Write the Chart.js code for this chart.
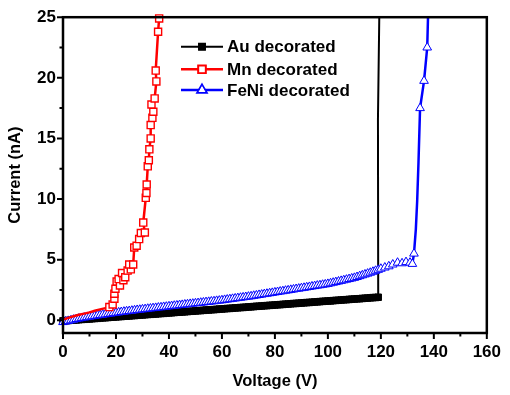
<!DOCTYPE html>
<html>
<head>
<meta charset="utf-8">
<script src="https://cdn.jsdelivr.net/npm/chart.js@4/dist/chart.umd.min.js"></script>
<style>
  body { margin: 0; background: #fff; }
  #wrap { width: 510px; height: 395px; position: relative; }
</style>
</head>
<body>
<div id="wrap"><canvas id="iv"></canvas></div>
<script>
// ---- data ----
const legendLabels = ['Au decorated', 'Mn decorated', 'FeNi decorated'];
const xTickLabels = [0, 20, 40, 60, 80, 100, 120, 140, 160];
const yTickLabels = [0, 5, 10, 15, 20, 25];

// Au decorated: voltage (V), current (nA)
const auV = [0,1,2,3,4,5,6,7,8,9,10,11,12,13,14,15,16,17,18,19,20,21,22,23,24,25,26,27,28,29,
  30,31,32,33,34,35,36,37,38,39,40,41,42,43,44,45,46,47,48,49,50,51,52,53,54,55,56,57,58,59,
  60,61,62,63,64,65,66,67,68,69,70,71,72,73,74,75,76,77,78,79,80,81,82,83,84,85,86,87,88,89,
  90,91,92,93,94,95,96,97,98,99,100,101,102,103,104,105,106,107,108,109,110,111,112,113,114,115,116,117,118,119,
  118.9,119.4];
const auI = [-0.05,-0.03,-0.02,0.0,0.02,0.03,0.05,0.07,0.08,0.1,0.11,0.13,0.15,0.16,0.18,0.2,0.21,0.23,0.25,0.26,
  0.28,0.3,0.31,0.33,0.34,0.36,0.38,0.39,0.41,0.43,0.44,0.46,0.48,0.49,0.51,0.52,0.54,0.56,0.57,0.59,
  0.61,0.62,0.64,0.66,0.67,0.69,0.7,0.72,0.74,0.75,0.77,0.79,0.8,0.82,0.84,0.85,0.87,0.88,0.9,0.92,
  0.93,0.95,0.97,0.98,1.0,1.02,1.03,1.05,1.06,1.08,1.1,1.11,1.13,1.15,1.16,1.18,1.2,1.21,1.23,1.24,
  1.26,1.28,1.29,1.31,1.33,1.34,1.36,1.38,1.39,1.41,1.42,1.44,1.46,1.47,1.49,1.51,1.52,1.54,1.56,1.57,
  1.59,1.6,1.62,1.64,1.65,1.67,1.69,1.7,1.72,1.74,1.75,1.77,1.78,1.8,1.82,1.83,1.85,1.87,1.88,1.9,
  16.6,25];

// Mn decorated
const mnV = [0,2,4,6,8,10,12,14,16,17,
  17.5,18.75,19.4,19.4,19.8,20.25,21.5,21,22.3,22.8,23.5,24.4,25.6,25,26.5,26.9,27.8,28.75,29.4,30.9,30.3,
  31.25,31.5,31.6,32,32.4,32.6,33.1,33.1,33.75,34.1,33.4,34.6,35.25,35,35.9,36.3];
const mnI = [0.05,0.2,0.33,0.45,0.55,0.65,0.78,0.9,1.0,1.05,
  1.09,1.31,1.78,2.19,2.6,3.2,2.87,3.4,3.9,3.3,3.55,4.1,4.2,4.6,4.6,6.0,6.15,6.7,7.2,7.24,8.06,
  10.1,10.5,11.2,12.7,13.2,14.1,15.0,16.1,16.7,17.2,17.8,18.3,19.7,20.6,23.8,24.9];

// FeNi decorated
const feniV = [0,1,2,3,4,5,6,7,8,9,10,11,12,13,14,15,16,17,18,19,20,21,22,23,24,25,26,27,28,29,
  30,31,32,33,34,35,36,37,38,39,40,41,42,43,44,45,46,47,48,49,50,51,52,53,54,55,56,57,58,59,
  60,61,62,63,64,65,66,67,68,69,70,71,72,73,74,75,76,77,78,79,80,81,82,83,84,85,86,87,88,89,
  90,91,92,93,94,95,96,97,98,99,100,101,102,103,104,105,106,107,108,109,110,111,112,113,114,115,116,117,118,119,120,
  121.5,123,124.5,126.3,128,129.5,131,131.9,132.5,133.2,133.7,134.2,134.8,136.3,137.5,137.8];
const feniI = [-0.15,-0.1,-0.05,0.0,0.05,0.1,0.14,0.18,0.22,0.26,0.3,0.33,0.36,0.4,0.43,0.46,0.49,0.52,0.55,0.59,
  0.62,0.65,0.68,0.71,0.74,0.76,0.79,0.82,0.85,0.87,0.9,0.92,0.95,0.97,1.0,1.02,1.05,1.07,1.1,1.12,
  1.15,1.17,1.2,1.22,1.25,1.27,1.3,1.32,1.35,1.37,1.4,1.42,1.45,1.47,1.5,1.52,1.55,1.57,1.6,1.62,
  1.65,1.68,1.71,1.74,1.77,1.8,1.83,1.86,1.89,1.92,1.95,1.98,2.02,2.05,2.09,2.12,2.16,2.19,2.23,2.26,
  2.3,2.33,2.37,2.4,2.44,2.47,2.51,2.54,2.58,2.61,2.65,2.68,2.72,2.75,2.79,2.82,2.86,2.89,2.93,2.96,
  3.0,3.05,3.1,3.15,3.2,3.25,3.3,3.35,3.4,3.45,3.5,3.57,3.64,3.71,3.78,3.85,3.92,4.0,4.08,4.16,4.25,
  4.35,4.45,4.6,4.75,4.7,4.8,4.75,4.65,5.5,7.5,9.8,13,17.5,19.75,22.5,25];

// points that are only part of the line, no marker in the figure
const auNoMark = [120, 121];
const mnNoMark = [0,1,2,3,4,5,6,7,8,9];
const feniNoMark = [130, 131, 132, 136];

const toXY = (xs, ys) => xs.map((x, i) => ({ x: x, y: ys[i] }));
const noMarkRadius = (skip, r) => (ctx) => skip.includes(ctx.dataIndex) ? 0 : r;

const FONT = "'Liberation Sans', Arial, sans-serif";

const frame = {
  id: 'frame',
  afterDatasetsDraw(chart) {
    const { ctx, chartArea: a, scales: { x, y } } = chart;
    ctx.save();
    ctx.strokeStyle = '#000';
    ctx.lineWidth = 2.5;
    ctx.strokeRect(a.left, a.top, a.right - a.left, a.bottom - a.top);
    ctx.lineWidth = 2;
    ctx.beginPath();
    for (let v = 0; v <= 160; v += 10) {
      const px = x.getPixelForValue(v);
      const len = v % 20 === 0 ? 6 : 3.5;
      ctx.moveTo(px, a.bottom);
      ctx.lineTo(px, a.bottom + len);
    }
    for (let v = 0; v <= 25; v += 2.5) {
      const py = y.getPixelForValue(v);
      const len = v % 5 === 0 ? 6 : 3.5;
      ctx.moveTo(a.left, py);
      ctx.lineTo(a.left - len, py);
    }
    ctx.stroke();

    // legend inside the plot
    const rows = [46.7, 69.3, 90];
    const x0 = 181, x1 = 223, xm = 202;
    const ds = chart.data.datasets;
    rows.forEach((ry, i) => {
      const d = ds[i];
      ctx.strokeStyle = d.borderColor;
      ctx.lineWidth = d.borderWidth;
      ctx.beginPath();
      ctx.moveTo(x0, ry);
      ctx.lineTo(x1, ry);
      ctx.stroke();
      Chart.helpers.drawPoint(ctx, {
        pointStyle: d.pointStyle,
        radius: d.legendRadius,
        borderWidth: d.pointBorderWidth
      }, xm, ry);
      ctx.fillStyle = d.pointBackgroundColor;
      ctx.strokeStyle = d.pointBorderColor;
      ctx.lineWidth = d.pointBorderWidth;
      ctx.fill();
      ctx.stroke();
      ctx.fillStyle = '#000';
      ctx.font = 'bold 17px ' + FONT;
      ctx.textBaseline = 'middle';
      ctx.textAlign = 'left';
      ctx.fillText(legendLabels[i], 227, ry + 1);
    });
    ctx.restore();
  }
};

new Chart(document.getElementById('iv'), {
  type: 'line',
  data: {
    datasets: [
      {
        label: legendLabels[0],
        data: toXY(auV, auI),
        borderColor: '#000',
        borderWidth: 2,
        pointStyle: 'rect',
        pointRadius: noMarkRadius(auNoMark, 4.6),
        legendRadius: 4.2,
        pointBackgroundColor: '#000',
        pointBorderColor: '#000',
        pointBorderWidth: 1,
        order: 2
      },
      {
        label: legendLabels[1],
        data: toXY(mnV, mnI),
        borderColor: '#f00',
        borderWidth: 2.5,
        pointStyle: 'rect',
        pointRadius: noMarkRadius(mnNoMark, 5),
        legendRadius: 5,
        pointBackgroundColor: '#fff',
        pointBorderColor: '#f00',
        pointBorderWidth: 1.4,
        order: 0
      },
      {
        label: legendLabels[2],
        data: toXY(feniV, feniI),
        borderColor: '#00f',
        borderWidth: 2.5,
        pointStyle: 'triangle',
        pointRadius: noMarkRadius(feniNoMark, 5),
        legendRadius: 5,
        pointBackgroundColor: '#fff',
        pointBorderColor: '#00f',
        pointBorderWidth: 1,
        order: 1
      }
    ]
  },
  options: {
    responsive: true,
    maintainAspectRatio: false,
    animation: false,
    events: [],
    layout: { padding: { left: 0, top: 15, right: 19, bottom: 0 } },
    elements: { line: { tension: 0 } },
    datasets: { line: { clip: 8 } },
    plugins: { legend: { display: false }, tooltip: { enabled: false } },
    scales: {
      x: {
        type: 'linear',
        min: 0,
        max: 160,
        afterBuildTicks: (s) => { s.ticks = xTickLabels.map(v => ({ value: v })); },
        afterFit: (s) => { s.height = 62; },
        grid: { display: false, drawTicks: false },
        border: { display: false },
        ticks: { color: '#000', font: { family: FONT, size: 17, weight: 'bold' }, padding: 9, maxRotation: 0 },
        title: { display: true, text: 'Voltage (V)', color: '#000',
          font: { family: FONT, size: 16.5, weight: 'bold' }, padding: { top: 0, bottom: 3.4 } }
      },
      y: {
        type: 'linear',
        min: -1.05,
        max: 25,
        afterBuildTicks: (s) => { s.ticks = yTickLabels.map(v => ({ value: v })); },
        afterFit: (s) => { s.width = 63; },
        grid: { display: false, drawTicks: false },
        border: { display: false },
        ticks: { color: '#000', font: { family: FONT, size: 17, weight: 'bold' }, padding: 7 },
        title: { display: true, text: 'Current (nA)', color: '#000',
          font: { family: FONT, size: 16.5, weight: 'bold' }, padding: { top: 6, bottom: 0 } }
      }
    }
  },
  plugins: [frame]
});
</script>
</body>
</html>
